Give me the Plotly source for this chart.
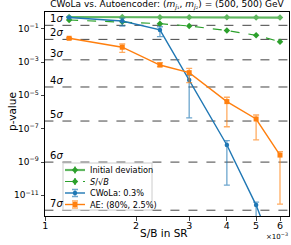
import math
import plotly.graph_objects as go

# ---------------- data ----------------
sb = [1.2e-3, 1.8e-3, 2.4e-3, 3.0e-3, 4.0e-3, 5.0e-3, 6.0e-3]

init_p = [0.50, 0.50, 0.49, 0.49, 0.48, 0.47, 0.46]
init_hi = [0.62, 0.62, 0.61, 0.61, 0.60, 0.59, 0.58]
init_lo = [0.38, 0.38, 0.37, 0.37, 0.36, 0.35, 0.34]

ssb_p = [0.33, 0.26, 0.20, 0.145, 0.078, 0.040, 0.0166]
ssb_hi = [0.38, 0.30, 0.23, 0.17, 0.092, 0.048, 0.020]
ssb_lo = [0.28, 0.22, 0.17, 0.12, 0.064, 0.032, 0.013]

cwola_p = [0.47, 0.29, 0.084, 8.3e-5, 1.05e-8, 2.6e-12, 5e-16]
cwola_hi = [0.50, 0.435, 0.13, 1.6e-4, 1.9e-8, 3.9e-12, 1e-15]
cwola_lo = [0.44, 0.145, 0.033, 4.4e-7, 4.1e-11, 1e-20, 1e-20]

ae_p = [0.0265, 7.7e-3, 6.6e-4, 2.3e-4, 4.2e-6, 3.8e-7, 2.6e-9]
ae_hi = [0.0285, 0.012, 9.2e-4, 4.2e-4, 7.7e-6, 6.6e-7, 4.2e-9]
ae_lo = [0.0245, 3.8e-3, 5.3e-4, 5.8e-5, 1.3e-7, 2.1e-8, 3e-12]

sigma_names = ["1", "2", "3", "4", "5", "6", "7"]
sigma_p = [1.587e-1, 2.275e-2, 1.350e-3, 3.167e-5, 2.867e-7, 9.866e-10, 1.280e-12]

x_tickvals = [1e-3, 2e-3, 3e-3, 4e-3, 5e-3, 6e-3]
x_ticktext = ["1", "2", "3", "4", "5", "6"]
y_tickvals = [1e-1, 1e-3, 1e-5, 1e-7, 1e-9, 1e-11]
y_ticktext = ["10<sup>−1</sup>", "10<sup>−3</sup>", "10<sup>−5</sup>",
              "10<sup>−7</sup>", "10<sup>−9</sup>", "10<sup>−11</sup>"]

legend_labels = ["Initial deviation", "<i>S</i>/√<i>B</i>", "CWoLa: 0.3%", "AE: (80%, 2.5%)"]

# --------------- styling -------------
GREEN = "#2ca02c"
BLUE = "#1f77b4"
ORANGE = "#ff7f0e"
FONT = "DejaVu Sans"

W, H = 291, 245
L, R, T, B = 45, 2, 12, 29
PW, PH = W - L - R, H - T - B


def fx(px):
    return (px - L) / PW


def fy(py):
    return (H - B - py) / PH


def errs(vals, hi, lo):
    return ([h - v for h, v in zip(hi, vals)], [v - l for v, l in zip(vals, lo)])


fig = go.Figure()

# sigma lines
for p in sigma_p:
    fig.add_trace(go.Scatter(x=[5e-4, 1e-2], y=[p, p], mode="lines",
                             line=dict(color="#444444", width=1, dash="dash"),
                             showlegend=False, hoverinfo="skip"))

styles = [
    dict(vals=init_p, hi=init_hi, lo=init_lo, color=GREEN, dash="solid", width=2.2,
         opacity=0.75, symbol="diamond", msize=5, ecolor=GREEN, ewidth=0),
    dict(vals=ssb_p, hi=ssb_hi, lo=ssb_lo, color=GREEN, dash="dash", width=1.2,
         opacity=1, symbol="diamond", msize=5, ecolor=GREEN, ewidth=0),
    dict(vals=cwola_p, hi=cwola_hi, lo=cwola_lo, color=BLUE, dash="solid", width=1.4,
         opacity=1, symbol="circle", msize=4.5, ecolor="rgba(31,119,180,0.65)", ewidth=3),
    dict(vals=ae_p, hi=ae_hi, lo=ae_lo, color=ORANGE, dash="solid", width=1.4,
         opacity=1, symbol="square", msize=5, ecolor="rgba(255,127,14,0.65)", ewidth=3),
]

for s in styles:
    up, dn = errs(s["vals"], s["hi"], s["lo"])
    fig.add_trace(go.Scatter(
        x=sb, y=s["vals"], mode="lines+markers", opacity=s["opacity"],
        line=dict(color=s["color"], width=s["width"], dash=s["dash"]),
        marker=dict(color=s["color"], symbol=s["symbol"], size=s["msize"]),
        error_y=dict(type="data", symmetric=False, array=up, arrayminus=dn,
                     color=s["ecolor"], thickness=1.3, width=s["ewidth"]),
        showlegend=False))

# ---- custom legend on overlay axes ----
bx0, bx1, by0, by1 = fx(63), fx(152), fy(210), fy(163)
fig.add_trace(go.Scatter(x=[bx0, bx1, bx1, bx0, bx0], y=[by0, by0, by1, by1, by0],
                         xaxis="x2", yaxis="y2", mode="lines", fill="toself",
                         fillcolor="rgba(255,255,255,0.85)",
                         line=dict(color="#cccccc", width=1), showlegend=False,
                         hoverinfo="skip"))
rows = [170, 181.5, 193, 204.5]
for s, lab, ry in zip(styles, legend_labels, rows):
    yy = fy(ry)
    fig.add_trace(go.Scatter(x=[fx(65), fx(85)], y=[yy, yy], xaxis="x2", yaxis="y2",
                             mode="lines", opacity=s["opacity"],
                             line=dict(color=s["color"], width=s["width"], dash=s["dash"]),
                             showlegend=False, hoverinfo="skip"))
    fig.add_trace(go.Scatter(x=[fx(75)], y=[yy], xaxis="x2", yaxis="y2", mode="markers",
                             marker=dict(color=s["color"], symbol=s["symbol"], size=s["msize"]),
                             error_y=dict(type="constant", value=3.5 / PH, color=s["ecolor"],
                                          thickness=1.3, width=s["ewidth"]),
                             showlegend=False, hoverinfo="skip"))
    fig.add_annotation(x=fx(88), y=yy, xref="x2", yref="y2", text=lab, showarrow=False,
                       xanchor="left", yanchor="middle", font=dict(size=8.2, color="black"))

# sigma labels
for n, p in zip(sigma_names, sigma_p):
    fig.add_annotation(x=fx(48), y=math.log10(p), xref="paper", yref="y",
                       text=n + "<i>σ</i>", showarrow=False, xanchor="left",
                       yanchor="bottom", yshift=-1, font=dict(size=10, color="black"))

# axis labels etc.
fig.add_annotation(x=fx(164), y=fy(233), xref="paper", yref="paper", text="S/B in SR",
                   showarrow=False, xanchor="center", yanchor="middle",
                   font=dict(size=10.5, color="black"))
fig.add_annotation(x=fx(12), y=fy(112), xref="paper", yref="paper", text="p-value",
                   showarrow=False, textangle=-90, xanchor="center", yanchor="middle",
                   font=dict(size=10.5, color="black"))
fig.add_annotation(x=fx(290), y=fy(236), xref="paper", yref="paper", text="×10<sup>−3</sup>",
                   showarrow=False, xanchor="right", yanchor="middle",
                   font=dict(size=7, color="black"))

fig.update_layout(
    width=W, height=H, margin=dict(l=L, r=R, t=T, b=B),
    paper_bgcolor="white", plot_bgcolor="white",
    font=dict(family=FONT, color="black"),
    title=dict(text="CWoLa vs. Autoencoder: (<i>m</i><sub><i>j</i>₁</sub>, <i>m</i><sub><i>j</i>₂</sub>) = (500, 500) GeV",
               x=0.5, xref="paper", xanchor="center", y=0.998, yref="container",
               yanchor="top", font=dict(size=9, color="black")),
    showlegend=False,
    xaxis=dict(type="log", range=[-3.0008, -2.192], tickvals=x_tickvals, ticktext=x_ticktext,
               showgrid=False, zeroline=False, showline=True, mirror=True,
               linecolor="black", linewidth=1, ticks="outside", ticklen=3.5,
               ticklabelstandoff=-3, tickfont=dict(size=9.5)),
    yaxis=dict(type="log", range=[-12.24, 0.0], tickvals=y_tickvals, ticktext=y_ticktext,
               showgrid=False, zeroline=False, showline=True, mirror=True,
               linecolor="black", linewidth=1, ticks="outside", ticklen=3.5,
               tickfont=dict(size=9)),
    xaxis2=dict(overlaying="x", range=[0, 1], visible=False, anchor="y2"),
    yaxis2=dict(overlaying="y", range=[0, 1], visible=False, anchor="x2"),
)

fig.write_html("out.html", config={"displayModeBar": False},
               post_script="document.body.style.margin='0';")
